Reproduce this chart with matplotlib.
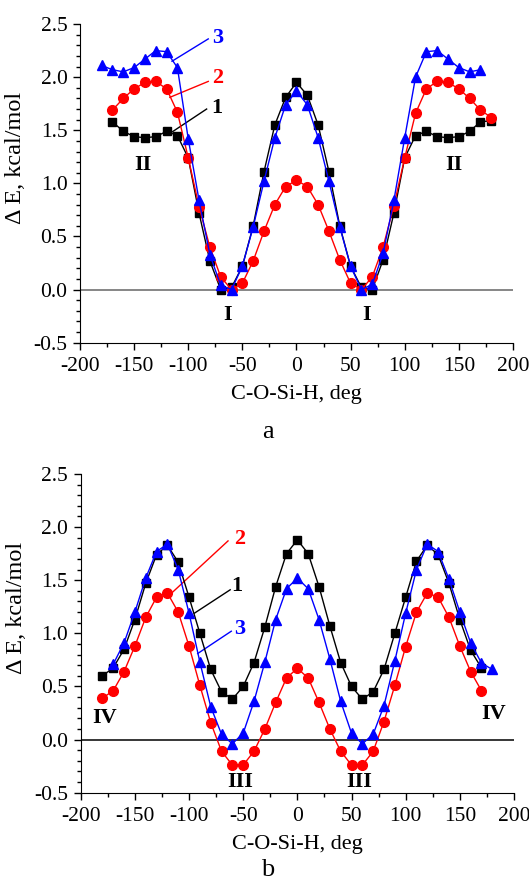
import matplotlib
matplotlib.use('Agg')
import matplotlib.pyplot as plt
from matplotlib.ticker import MultipleLocator, FormatStrFormatter

plt.rcParams['font.family'] = ['Liberation Serif', 'DejaVu Serif']
plt.rcParams['axes.unicode_minus'] = False

# panel a
a1_x = list(range(-170, 190, 10))
a1_y = [1.58, 1.49, 1.44, 1.43, 1.44, 1.49, 1.45, 1.24, 0.72, 0.27, 0.0, 0.02,
        0.22, 0.60, 1.11, 1.55, 1.81, 1.95, 1.83, 1.55, 1.11, 0.60, 0.22, 0.02,
        0.0, 0.28, 0.72, 1.24, 1.45, 1.49, 1.44, 1.43, 1.44, 1.49, 1.58, 1.59]
a2_x = list(range(-170, 190, 10))
a2_y = [1.69, 1.80, 1.89, 1.95, 1.96, 1.89, 1.67, 1.24, 0.78, 0.40, 0.12, 0.0,
        0.06, 0.27, 0.55, 0.80, 0.97, 1.03, 0.97, 0.80, 0.55, 0.28, 0.06, 0.0,
        0.12, 0.40, 0.79, 1.24, 1.66, 1.89, 1.96, 1.95, 1.89, 1.80, 1.69, 1.62]
a3_x = list(range(-180, 180, 10))
a3_y = [2.11, 2.07, 2.05, 2.09, 2.17, 2.25, 2.24, 2.09, 1.42, 0.84, 0.33, 0.04,
        0.0, 0.22, 0.59, 1.02, 1.43, 1.74, 1.87, 1.74, 1.43, 1.02, 0.59, 0.22,
        0.0, 0.05, 0.34, 0.84, 1.43, 2.00, 2.24, 2.25, 2.17, 2.09, 2.05, 2.07]

# panel b
b1_x = list(range(-180, 180, 10))
b1_y = [0.60, 0.675, 0.85, 1.13, 1.47, 1.74, 1.83, 1.67, 1.34, 1.0, 0.66, 0.45,
        0.38, 0.50, 0.725, 1.06, 1.44, 1.75, 1.88, 1.75, 1.44, 1.07, 0.725, 0.50,
        0.38, 0.45, 0.66, 1.0, 1.34, 1.68, 1.83, 1.74, 1.47, 1.13, 0.84, 0.675]
b2_x = list(range(-180, 180, 10))
b2_y = [0.39, 0.46, 0.64, 0.88, 1.15, 1.34, 1.38, 1.20, 0.88, 0.51, 0.16, -0.11,
        -0.24, -0.24, -0.11, 0.10, 0.35, 0.58, 0.67, 0.58, 0.35, 0.10, -0.11, -0.24,
        -0.24, -0.11, 0.17, 0.51, 0.875, 1.20, 1.38, 1.34, 1.15, 0.88, 0.64, 0.46]
b3_x = list(range(-170, 190, 10))
b3_y = [0.71, 0.91, 1.20, 1.52, 1.77, 1.84, 1.60, 1.19, 0.73, 0.31, 0.05, -0.04,
        0.06, 0.36, 0.73, 1.13, 1.42, 1.52, 1.42, 1.13, 0.76, 0.36, 0.06, -0.04,
        0.05, 0.32, 0.74, 1.19, 1.60, 1.84, 1.77, 1.51, 1.20, 0.91, 0.72, 0.66]

fig = plt.figure(figsize=(5.29, 8.84), dpi=100)
ax_a = fig.add_axes([0.1512, 0.6123, 0.8185, 0.3605])
ax_b = fig.add_axes([0.1526, 0.1033, 0.819, 0.3605])


def style_axes(ax, zero_color):
    ax.set_xlim(-200, 200)
    ax.set_ylim(-0.5, 2.5)
    ax.axhline(0, color=zero_color, lw=1.1, zorder=1)
    for s in ['top', 'right']:
        ax.spines[s].set_visible(False)
    ax.xaxis.set_major_locator(MultipleLocator(50))
    ax.xaxis.set_minor_locator(MultipleLocator(25))
    ax.yaxis.set_major_locator(MultipleLocator(0.5))
    ax.yaxis.set_minor_locator(MultipleLocator(0.1))
    ax.tick_params(which='major', direction='out', length=5, width=1,
                   labelsize=15.5)
    ax.tick_params(axis='x', which='major', pad=5)
    ax.tick_params(axis='y', which='major', pad=4)
    ax.tick_params(which='minor', direction='out', length=3, width=1)
    ax.yaxis.set_major_formatter(FormatStrFormatter('%.1f'))
    ax.set_xlabel('C-O-Si-H, deg', fontsize=16, labelpad=7)
    ax.set_ylabel('\u0394 E, kcal/mol', fontsize=17.5)


def draw(ax, x1, y1, x2, y2, x3, y3):
    ax.plot(x1, y1, color='black', lw=1, marker='s', ms=6, zorder=3)
    ax.plot(x2, y2, color='red', lw=1, marker='o', ms=7, zorder=4)
    ax.plot(x3, y3, color='blue', lw=1, marker='^', ms=7.5, zorder=5)


style_axes(ax_a, '#666666')
draw(ax_a, a1_x, a1_y, a2_x, a2_y, a3_x, a3_y)
lab = dict(fontsize=16, fontweight='bold', ha='center', va='center')
ax_a.text(-142, 1.17, 'II', **lab)
ax_a.text(145, 1.17, 'II', **lab)
ax_a.text(-64, -0.24, 'I', **lab)
ax_a.text(65, -0.24, 'I', **lab)
ax_a.plot([-115, -81.5], [2.15, 2.36], color='blue', lw=1)
ax_a.plot([-117, -81.5], [1.81, 1.96], color='red', lw=1)
ax_a.plot([-117, -83], [1.47, 1.70], color='black', lw=1)
ax_a.text(-73, 2.37, '3', color='blue', **lab)
ax_a.text(-73, 1.99, '2', color='red', **lab)
ax_a.text(-74, 1.71, '1', color='black', **lab)
ax_a.yaxis.set_label_coords(-0.125, 0.58)

style_axes(ax_b, 'black')
draw(ax_b, b1_x, b1_y, b2_x, b2_y, b3_x, b3_y)
ax_b.text(-178, 0.20, 'IV', **lab)
ax_b.text(181, 0.24, 'IV', **lab)
ax_b.text(-53, -0.40, 'III', **lab)
ax_b.text(57, -0.40, 'III', **lab)
ax_b.plot([-116, -64], [1.38, 1.87], color='red', lw=1)
ax_b.plot([-95, -62], [1.19, 1.41], color='black', lw=1)
ax_b.plot([-92, -61], [0.81, 1.02], color='blue', lw=1)
ax_b.text(-53, 1.89, '2', color='red', **lab)
ax_b.text(-56, 1.45, '1', color='black', **lab)
ax_b.text(-53, 1.04, '3', color='blue', **lab)
ax_b.yaxis.set_label_coords(-0.125, 0.58)

fig.text(268 / 529, 1 - 432 / 884, 'a', fontsize=19, ha='center', va='center')
fig.text(268 / 529, 1 - 870 / 884, 'b', fontsize=19, ha='center', va='center')

fig.savefig('out.png', dpi=100)
